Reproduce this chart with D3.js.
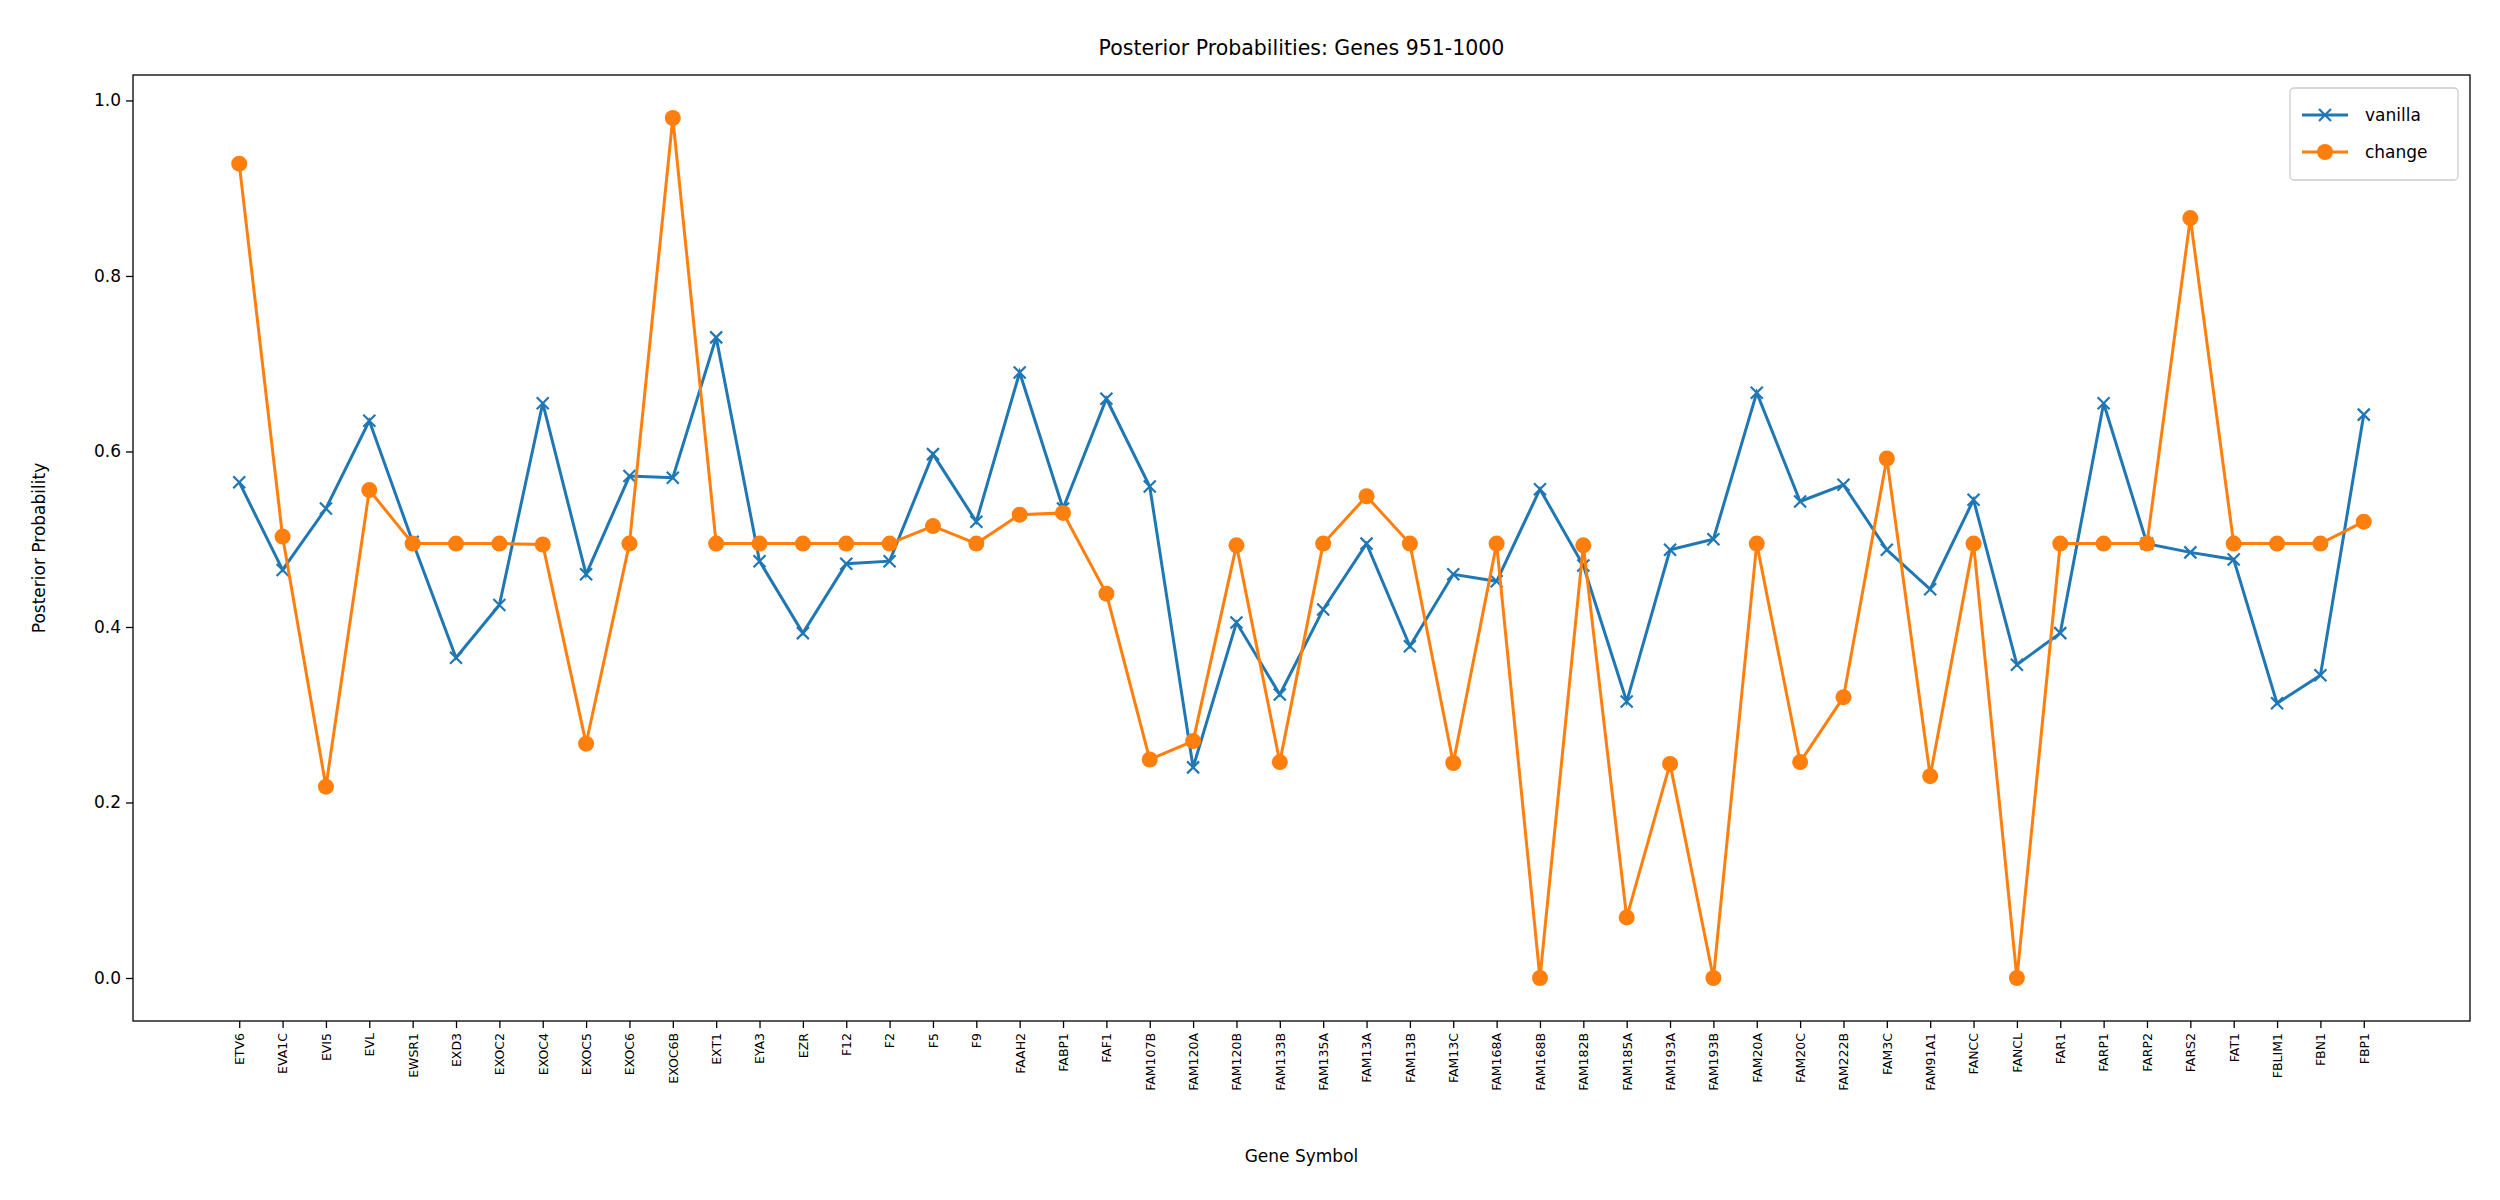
<!DOCTYPE html>
<html>
<head>
<meta charset="utf-8">
<script src="https://cdn.jsdelivr.net/npm/d3@7"></script>
<style>
  body { margin: 0; background: #fff; }
  text { font-family: "DejaVu Sans", sans-serif; }
</style>
</head>
<body>
<svg id="chart" width="2500" height="1200"></svg>
<script>
const genes = ["ETV6","EVA1C","EVI5","EVL","EWSR1","EXD3","EXOC2","EXOC4","EXOC5","EXOC6",
  "EXOC6B","EXT1","EYA3","EZR","F12","F2","F5","F9","FAAH2","FABP1",
  "FAF1","FAM107B","FAM120A","FAM120B","FAM133B","FAM135A","FAM13A","FAM13B","FAM13C","FAM168A",
  "FAM168B","FAM182B","FAM185A","FAM193A","FAM193B","FAM20A","FAM20C","FAM222B","FAM3C","FAM91A1",
  "FANCC","FANCL","FAR1","FARP1","FARP2","FARS2","FAT1","FBLIM1","FBN1","FBP1"];
const vanilla = [0.565,0.465,0.535,0.635,0.497,0.365,0.425,0.655,0.46,0.572,
  0.57,0.73,0.475,0.393,0.472,0.475,0.597,0.52,0.69,0.535,
  0.66,0.56,0.24,0.405,0.323,0.42,0.495,0.378,0.46,0.452,
  0.557,0.47,0.315,0.488,0.5,0.667,0.543,0.562,0.488,0.443,
  0.545,0.357,0.393,0.655,0.495,0.485,0.477,0.313,0.345,0.642];
const change = [0.928,0.503,0.218,0.556,0.495,0.495,0.495,0.494,0.267,0.495,
  0.98,0.495,0.495,0.495,0.495,0.495,0.515,0.495,0.528,0.53,
  0.438,0.249,0.27,0.493,0.246,0.495,0.549,0.495,0.245,0.495,
  0.0,0.493,0.069,0.244,0.0,0.495,0.246,0.32,0.592,0.23,
  0.495,0.0,0.495,0.495,0.495,0.866,0.495,0.495,0.495,0.52];
const yTicks = [0.0, 0.2, 0.4, 0.6, 0.8, 1.0];

const svg = d3.select("#chart");
const margin = { top: 75, right: 30, bottom: 179, left: 133 };
const width = 2500, height = 1200;

const n = genes.length;
const x = d3.scaleLinear().domain([-0.05 * (n - 1), (n - 1) * 1.05]).range([margin.left, width - margin.right]);
const y = d3.scaleLinear().domain([-0.049, 1.029]).range([height - margin.bottom, margin.top]);

// x axis
const xAxis = svg.append("g")
  .attr("transform", `translate(0,${height - margin.bottom})`)
  .call(d3.axisBottom(x).tickValues(d3.range(n)).tickFormat(i => genes[i]).tickSizeOuter(0).tickSize(7));
xAxis.select(".domain").remove();
xAxis.selectAll("line").attr("stroke-width", 1.3);
xAxis.selectAll("text")
  .attr("font-size", 12.5)
  .attr("transform", "rotate(-90)")
  .attr("text-anchor", "end")
  .attr("x", -12).attr("y", 0).attr("dy", "0.35em");

// y axis
const yAxis = svg.append("g")
  .attr("transform", `translate(${margin.left},0)`)
  .call(d3.axisLeft(y).tickValues(yTicks).tickFormat(d3.format(".1f")).tickSize(7));
yAxis.select(".domain").remove();
yAxis.selectAll("line").attr("stroke-width", 1.3);
yAxis.selectAll("text").attr("font-size", 17).attr("x", -12);

// frame
svg.append("rect")
  .attr("x", margin.left).attr("y", margin.top)
  .attr("width", width - margin.left - margin.right)
  .attr("height", height - margin.top - margin.bottom)
  .attr("fill", "none").attr("stroke", "#000").attr("stroke-width", 1.3);

const line = d3.line().x((d, i) => x(i)).y(d => y(d));

// vanilla
svg.append("path").datum(vanilla).attr("d", line)
  .attr("fill", "none").attr("stroke", "#1f77b4").attr("stroke-width", 3);
const s = 6;
svg.append("g").selectAll("path").data(vanilla).join("path")
  .attr("d", (d, i) => `M${x(i)-s},${y(d)-s}L${x(i)+s},${y(d)+s}M${x(i)-s},${y(d)+s}L${x(i)+s},${y(d)-s}`)
  .attr("stroke", "#1f77b4").attr("stroke-width", 2.2);

// change
svg.append("path").datum(change).attr("d", line)
  .attr("fill", "none").attr("stroke", "#ff7f0e").attr("stroke-width", 3);
svg.append("g").selectAll("circle").data(change).join("circle")
  .attr("cx", (d, i) => x(i)).attr("cy", d => y(d)).attr("r", 8)
  .attr("fill", "#ff7f0e");

// title and labels
svg.append("text").attr("x", (margin.left + width - margin.right) / 2).attr("y", 55)
  .attr("text-anchor", "middle").attr("font-size", 20.5).text("Posterior Probabilities: Genes 951-1000");
svg.append("text").attr("x", (margin.left + width - margin.right) / 2).attr("y", 1162)
  .attr("text-anchor", "middle").attr("font-size", 17).text("Gene Symbol");
svg.append("text")
  .attr("transform", `translate(45,${(margin.top + height - margin.bottom) / 2})rotate(-90)`)
  .attr("text-anchor", "middle").attr("font-size", 17).text("Posterior Probability");

// legend
const lg = svg.append("g").attr("transform", `translate(${width - margin.right - 180},88)`);
lg.append("rect").attr("width", 168).attr("height", 92).attr("rx", 4)
  .attr("fill", "#fff").attr("stroke", "#ccc").attr("stroke-width", 1.3);
[["vanilla", "#1f77b4", "x"], ["change", "#ff7f0e", "o"]].forEach(([name, col, m], k) => {
  const cy = 27 + k * 37;
  lg.append("line").attr("x1", 12).attr("x2", 58).attr("y1", cy).attr("y2", cy)
    .attr("stroke", col).attr("stroke-width", 3);
  if (m === "x") {
    lg.append("path").attr("d", `M${35-s},${cy-s}L${35+s},${cy+s}M${35-s},${cy+s}L${35+s},${cy-s}`)
      .attr("stroke", col).attr("stroke-width", 2.2);
  } else {
    lg.append("circle").attr("cx", 35).attr("cy", cy).attr("r", 8).attr("fill", col);
  }
  lg.append("text").attr("x", 75).attr("y", cy).attr("dy", "0.35em").attr("font-size", 17).text(name);
});
</script>
</body>
</html>
